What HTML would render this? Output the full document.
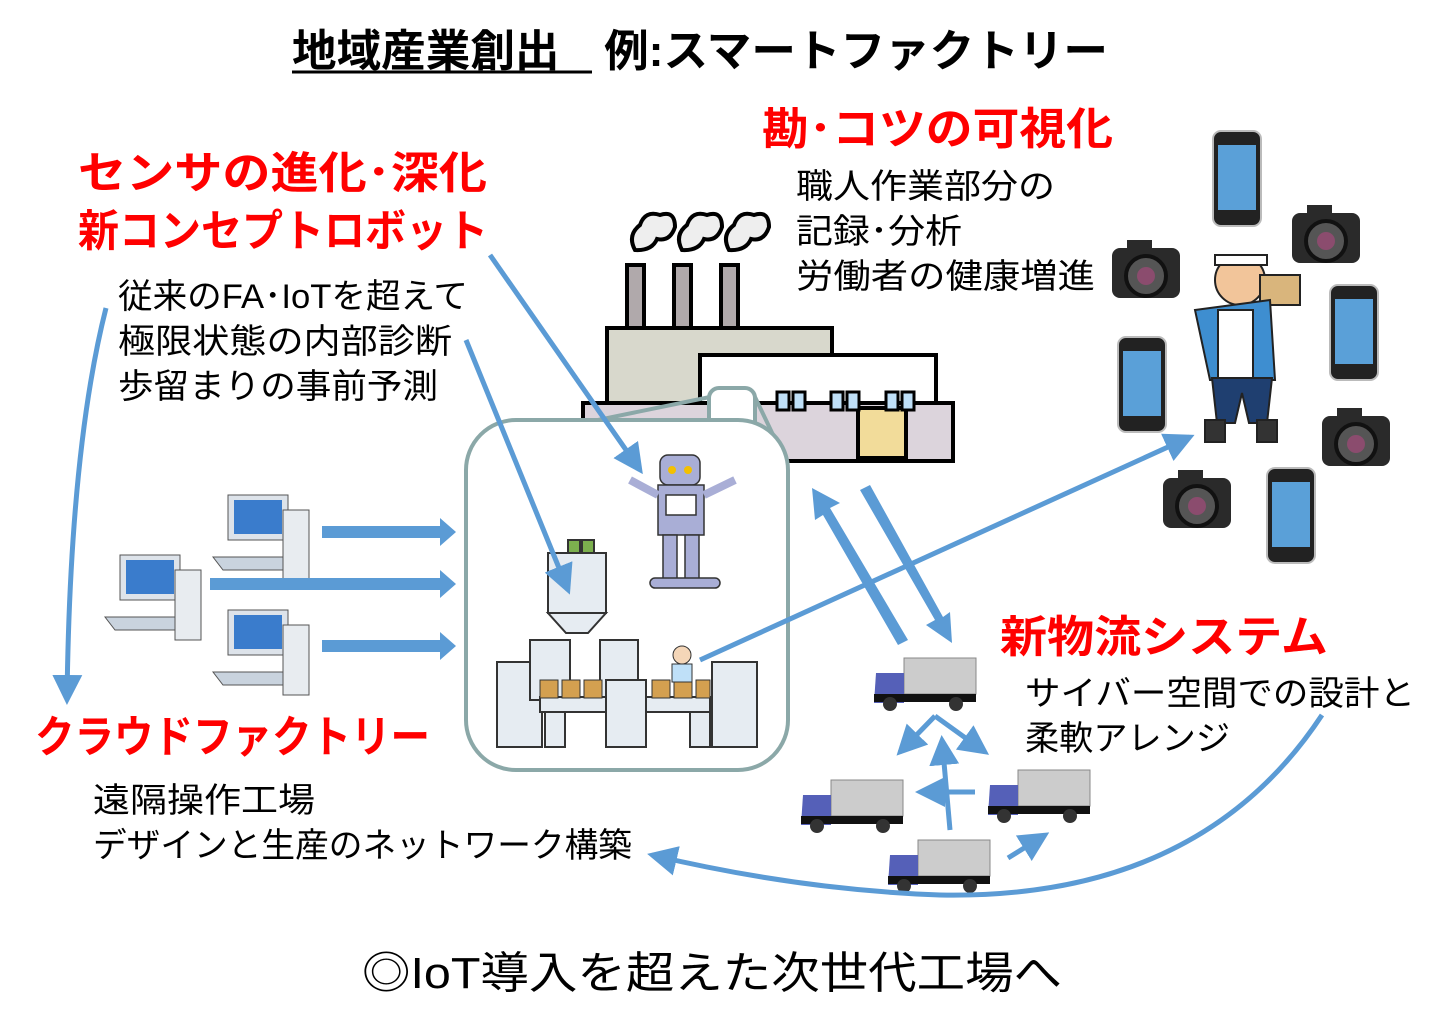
<!DOCTYPE html>
<html><head><meta charset="utf-8"><style>
html,body{margin:0;padding:0;background:#fff}
svg{display:block}
text{font-family:"Liberation Sans","Noto Sans CJK JP",sans-serif}
.r{fill:#ff0000;font-size:44px;font-weight:bold}
.b{fill:#000;font-size:34px}
</style></head><body>
<svg width="1438" height="1028" viewBox="0 0 1438 1028" xmlns="http://www.w3.org/2000/svg">
<defs>
<marker id="ah" markerWidth="6" markerHeight="6" refX="5" refY="3" orient="auto" markerUnits="strokeWidth"><path d="M0,0 L6,3 L0,6 z" fill="#5b9bd5"/></marker>
<g id="pc">
<rect x="0" y="0" width="60" height="45" fill="#dde3ea" stroke="#555"/>
<rect x="6" y="5" width="48" height="34" fill="#3a7ccc"/>
<path d="M-15,62 L55,62 L65,75 L-5,75z" fill="#c9d3de" stroke="#555"/>
<rect x="55" y="15" width="26" height="70" fill="#e8ecf0" stroke="#555"/>
</g>
<g id="ph">
<rect x="0" y="0" width="48" height="95" rx="8" fill="#222" stroke="#bbb" stroke-width="2"/>
<rect x="5" y="14" width="38" height="65" fill="#5aa0d8"/>
</g>
<g id="cam">
<rect x="0" y="8" width="68" height="50" rx="8" fill="#2a2a2a"/>
<rect x="15" y="0" width="25" height="12" fill="#2a2a2a"/>
<circle cx="34" cy="36" r="20" fill="#555" stroke="#111" stroke-width="4"/>
<circle cx="34" cy="36" r="9" fill="#8b4c6e"/>
</g>
<g id="tr">
<rect x="28" y="0" width="72" height="36" fill="#ccc" stroke="#888"/>
<path d="M0,15 h28 v30 h-30z" fill="#5560b8"/>
<rect x="-2" y="36" width="102" height="8" fill="#111"/>
<circle cx="14" cy="46" r="7" fill="#333"/><circle cx="80" cy="46" r="7" fill="#333"/>
</g>
</defs>
<!-- title -->
<text x="292" y="66" style="font-size:44px;font-weight:bold" fill="#000" textLength="816" lengthAdjust="spacingAndGlyphs">地域産業創出　例:スマートファクトリー</text>
<line x1="292" y1="72" x2="592" y2="72" stroke="#000" stroke-width="3"/>
<!-- red headings -->
<text class="r" x="78" y="188" textLength="409" lengthAdjust="spacingAndGlyphs">センサの進化･深化</text>
<text class="r" x="78" y="246" textLength="410" lengthAdjust="spacingAndGlyphs">新コンセプトロボット</text>
<text class="r" x="762" y="144" textLength="351" lengthAdjust="spacingAndGlyphs">勘･コツの可視化</text>
<text class="r" x="1000" y="652" textLength="328" lengthAdjust="spacingAndGlyphs">新物流システム</text>
<text class="r" x="35" y="752" textLength="395" lengthAdjust="spacingAndGlyphs">クラウドファクトリー</text>
<!-- black text -->
<text class="b" x="118" y="308" textLength="350" lengthAdjust="spacingAndGlyphs">従来のFA･IoTを超えて</text>
<text class="b" x="118" y="353" textLength="334" lengthAdjust="spacingAndGlyphs">極限状態の内部診断</text>
<text class="b" x="118" y="398" textLength="320" lengthAdjust="spacingAndGlyphs">歩留まりの事前予測</text>
<text class="b" x="796" y="198" textLength="259" lengthAdjust="spacingAndGlyphs">職人作業部分の</text>
<text class="b" x="796" y="243" textLength="166" lengthAdjust="spacingAndGlyphs">記録･分析</text>
<text class="b" x="796" y="288" textLength="299" lengthAdjust="spacingAndGlyphs">労働者の健康増進</text>
<text class="b" x="1025" y="705" textLength="390" lengthAdjust="spacingAndGlyphs">サイバー空間での設計と</text>
<text class="b" x="1025" y="750" textLength="205" lengthAdjust="spacingAndGlyphs">柔軟アレンジ</text>
<text class="b" x="93" y="812" textLength="222" lengthAdjust="spacingAndGlyphs">遠隔操作工場</text>
<text class="b" x="93" y="857" textLength="539" lengthAdjust="spacingAndGlyphs">デザインと生産のネットワーク構築</text>
<text x="362" y="988" style="font-size:44px" fill="#000" textLength="700" lengthAdjust="spacingAndGlyphs">◎IoT導入を超えた次世代工場へ</text>

<!-- factory -->
<g stroke="#000" stroke-width="4">
<rect x="627" y="265" width="17" height="80" fill="#b0a9ab"/>
<rect x="674" y="265" width="17" height="80" fill="#b0a9ab"/>
<rect x="721" y="265" width="17" height="80" fill="#b0a9ab"/>
<rect x="607" y="328" width="225" height="110" fill="#d8d8cc"/>
<rect x="700" y="355" width="236" height="52" fill="#fff"/>
<rect x="583" y="403" width="370" height="58" fill="#dcd4dc"/>
<rect x="858" y="408" width="48" height="50" fill="#f2dc9a"/>
</g>
<g fill="#bfe0f8" stroke="#000" stroke-width="3">
<rect x="777" y="392" width="12" height="18"/><rect x="793" y="392" width="12" height="18"/>
<rect x="831" y="392" width="12" height="18"/><rect x="847" y="392" width="12" height="18"/>
<rect x="886" y="392" width="12" height="18"/><rect x="902" y="392" width="12" height="18"/>
</g>
<g fill="#eee" stroke="#000" stroke-width="4">
<path d="M635,250 q-8,-15 5,-25 q5,-15 20,-10 q15,-5 15,12 q-5,15 -18,12 q-5,12 -22,11z"/>
<path d="M682,250 q-8,-15 5,-25 q5,-15 20,-10 q15,-5 15,12 q-5,15 -18,12 q-5,12 -22,11z"/>
<path d="M729,250 q-8,-15 5,-25 q5,-15 20,-10 q15,-5 15,12 q-5,15 -18,12 q-5,12 -22,11z"/>
</g>
<!-- zoom callout -->
<g stroke="#8ba8a8" stroke-width="4" fill="none">
<line x1="500" y1="440" x2="710" y2="397"/>
<line x1="755" y1="397" x2="785" y2="460"/>
<rect x="709" y="388" width="46" height="52" rx="10" fill="#fff"/>
<rect x="466" y="420" width="322" height="350" rx="50" fill="#fff"/>
</g>
<!-- robot -->
<g stroke="#333" stroke-width="1.5">
<rect x="660" y="455" width="40" height="30" rx="8" fill="#a9aed6"/>
<rect x="658" y="485" width="46" height="50" fill="#a9aed6"/>
<rect x="666" y="495" width="30" height="20" fill="#fff"/>
<rect x="663" y="535" width="14" height="45" fill="#a9aed6"/>
<rect x="685" y="535" width="14" height="45" fill="#a9aed6"/>
<rect x="650" y="578" width="70" height="10" rx="5" fill="#a9aed6"/>
<path d="M658,495 L630,480 M704,495 L735,480" stroke="#a9aed6" stroke-width="8"/>
</g>
<circle cx="672" cy="470" r="4" fill="#f3c000"/><circle cx="688" cy="470" r="4" fill="#f3c000"/>
<!-- machine -->
<g stroke="#333" stroke-width="2" fill="#e6ecf2">
<path d="M568,540 h12 v15 h-12z M582,540 h12 v15 h-12z" fill="#7cb04e"/>
<rect x="548" y="553" width="58" height="60"/>
<path d="M548,613 h58 l-18,20 h-22z"/>
<rect x="497" y="662" width="45" height="85"/>
<rect x="712" y="662" width="45" height="85"/>
<rect x="530" y="640" width="40" height="60"/>
<rect x="600" y="640" width="38" height="60"/>
<rect x="540" y="697" width="170" height="15"/>
<rect x="545" y="712" width="20" height="35"/>
<rect x="690" y="712" width="20" height="35"/>
<rect x="606" y="680" width="40" height="67"/>
</g>
<g fill="#d4a050" stroke="#333">
<rect x="540" y="680" width="18" height="18"/><rect x="562" y="680" width="18" height="18"/><rect x="584" y="680" width="18" height="18"/>
<rect x="652" y="680" width="18" height="18"/><rect x="674" y="680" width="18" height="18"/><rect x="696" y="680" width="14" height="18"/>
</g>
<circle cx="682" cy="655" r="9" fill="#f4d6b8" stroke="#333"/>
<rect x="672" y="664" width="20" height="18" fill="#bfe0f8" stroke="#333"/>

<use href="#pc" x="228" y="495"/>
<use href="#pc" x="120" y="555"/>
<use href="#pc" x="228" y="610"/>

<use href="#ph" x="1213" y="131"/>
<use href="#ph" x="1330" y="285"/>
<use href="#ph" x="1118" y="337"/>
<use href="#ph" x="1267" y="468"/>
<use href="#cam" x="1292" y="205"/>
<use href="#cam" x="1112" y="240"/>
<use href="#cam" x="1322" y="408"/>
<use href="#cam" x="1163" y="470"/>
<!-- craftsman -->
<g stroke="#222" stroke-width="2">
<circle cx="1240" cy="280" r="25" fill="#f2c59a"/>
<rect x="1215" y="255" width="52" height="10" fill="#fff"/>
<rect x="1260" y="275" width="40" height="30" fill="#d9b57c"/>
<path d="M1195,310 L1270,300 L1275,380 L1210,380z" fill="#3e8ed0"/>
<rect x="1218" y="310" width="35" height="70" fill="#fff"/>
<path d="M1212,378 h60 l-5,45 h-18 l-7,-30 l-7,30 h-18z" fill="#1f3f70"/>
<rect x="1205" y="420" width="20" height="22" fill="#333"/>
<rect x="1257" y="420" width="20" height="22" fill="#333"/>
</g>
<use href="#tr" x="876" y="658"/>
<use href="#tr" x="803" y="780"/>
<use href="#tr" x="990" y="770"/>
<use href="#tr" x="890" y="840"/>

<!-- arrows -->
<g stroke="#5b9bd5" stroke-width="5" fill="none">
<line x1="490" y1="255" x2="640" y2="470" marker-end="url(#ah)"/>
<line x1="466" y1="340" x2="568" y2="590" marker-end="url(#ah)"/>
<path d="M106,308 Q70,450 67,700" marker-end="url(#ah)"/>
<line x1="700" y1="660" x2="1190" y2="437" marker-end="url(#ah)"/>
<path d="M1322,715 Q1200,900 940,895 Q800,890 652,855" marker-end="url(#ah)"/>
<line x1="935" y1="716" x2="900" y2="752" marker-end="url(#ah)"/>
<line x1="935" y1="716" x2="985" y2="752" marker-end="url(#ah)"/>
<line x1="950" y1="830" x2="942" y2="740" marker-end="url(#ah)"/>
<line x1="975" y1="792" x2="920" y2="792" marker-end="url(#ah)"/>
<line x1="1008" y1="858" x2="1045" y2="835" marker-end="url(#ah)"/>
</g>
<g fill="#5b9bd5">
<path d="M322,526 h118 v-8 l16,14 l-16,14 v-8 h-118z"/>
<path d="M210,578 h230 v-8 l16,14 l-16,14 v-8 h-230z"/>
<path d="M322,640 h118 v-8 l16,14 l-16,14 v-8 h-118z"/>
<path d="M908,640 L830,508 L840,503 L812,488 L815,520 L823,515 L898,645z"/>
<path d="M860,490 L935,620 L926,625 L952,643 L950,612 L943,617 L870,485z"/>
</g>
</svg>
</body></html>
